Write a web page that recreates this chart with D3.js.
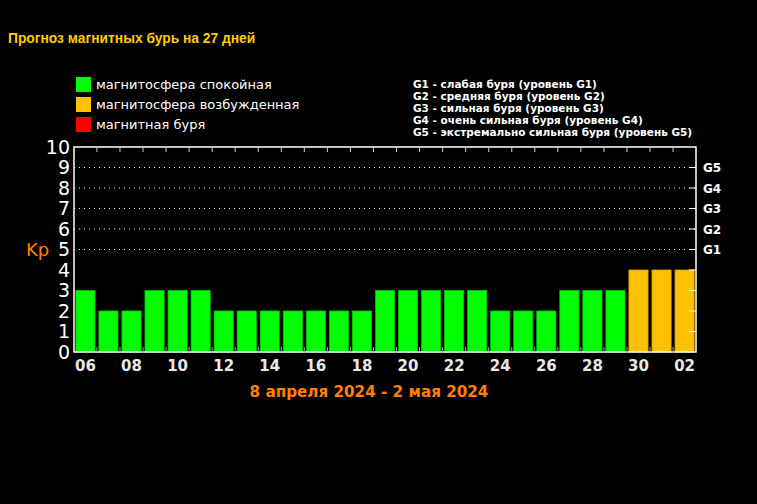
<!DOCTYPE html>
<html>
<head>
<meta charset="utf-8">
<script src="https://cdn.jsdelivr.net/npm/d3@7"></script>
<style>
  body { margin: 0; background: #000; }
  svg { display: block; }
</style>
</head>
<body>
<svg></svg>
<script>
let days = ['06','07','08','09','10','11','12','13','14','15','16','17','18','19','20','21','22','23','24','25','26','27','28','29','30','01','02']
let kp = [3,2,2,3,3,3,2,2,2,2,2,2,2,3,3,3,3,3,2,2,2,3,3,3,4,4,4]
let dayLabels = ['06','08','10','12','14','16','18','20','22','24','26','28','30','02']
let gLevels = [5,6,7,8,9]
let gNames = ['G1','G2','G3','G4','G5']
let legendItems = ['магнитосфера спокойная','магнитосфера возбужденная','магнитная буря']
let legendColors = ['#00ff00','#ffc000','#ff0000']
let gLegend = [
  'G1 - слабая буря (уровень G1)',
  'G2 - средняя буря (уровень G2)',
  'G3 - сильная буря (уровень G3)',
  'G4 - очень сильная буря (уровень G4)',
  'G5 - экстремально сильная буря (уровень G5)'
]

let width = 757
let height = 504
let plotL = 74, plotR = 696, plotT = 147, plotB = 352

let svg = d3.select('svg').attr('width', width).attr('height', height)
svg.append('rect').attr('width', width).attr('height', height).attr('fill', '#000')

let xScale = d3.scaleBand().domain(days).range([plotL, plotR]).paddingInner(0.17).paddingOuter(0.08)
let yScale = d3.scaleLinear().domain([0, 10]).range([plotB, plotT])

let barColor = (v) => v >= 5 ? legendColors[2] : (v >= 4 ? legendColors[1] : legendColors[0])

// title
svg.append('text').attr('x', 8).attr('y', 43)
  .attr('fill', '#ffcc00').attr('font-family', 'Liberation Sans, Arial, sans-serif')
  .attr('font-weight', 'bold').attr('font-size', 13.8)
  .text('Прогноз магнитных бурь на 27 дней')

// legend
legendItems.forEach((t, i) => {
  svg.append('rect').attr('x', 76).attr('y', 77 + i * 20).attr('width', 15).attr('height', 15).attr('fill', legendColors[i])
  svg.append('text').attr('x', 96).attr('y', 89 + i * 20)
    .attr('fill', '#fff').attr('font-family', 'DejaVu Sans, sans-serif').attr('font-size', 13)
    .text(t)
})
gLegend.forEach((t, i) => {
  svg.append('text').attr('x', 413).attr('y', 88 + i * 12)
    .attr('fill', '#fff').attr('font-family', 'DejaVu Sans, sans-serif').attr('font-weight', 'bold').attr('font-size', 10.5)
    .text(t)
})

// grid lines
svg.append('g').selectAll('line').data(gLevels).enter().append('line')
  .attr('x1', plotL).attr('x2', plotR)
  .attr('y1', d => yScale(d)).attr('y2', d => yScale(d))
  .attr('stroke', '#fff').attr('stroke-width', 1).attr('stroke-dasharray', '1,4')

// bars
svg.append('g').selectAll('rect').data(kp).enter().append('rect')
  .attr('x', (d, i) => xScale(days[i]))
  .attr('y', d => yScale(d))
  .attr('width', xScale.bandwidth())
  .attr('height', d => yScale(0) - yScale(d))
  .attr('fill', d => barColor(d))
  .attr('stroke', d => d >= 4 ? '#d9a300' : '#00c800').attr('stroke-width', 0.8)

// frame
svg.append('rect').attr('x', plotL).attr('y', plotT).attr('width', plotR - plotL).attr('height', plotB - plotT)
  .attr('fill', 'none').attr('stroke', '#fff').attr('stroke-width', 1.5)

// band ticks top & bottom
let bounds = days.slice(1).map((d, i) => (xScale(days[i]) + xScale.bandwidth() + xScale(d)) / 2)
svg.append('g').selectAll('line').data(bounds).enter().append('line')
  .attr('x1', d => d).attr('x2', d => d).attr('y1', plotT).attr('y2', plotT + 5)
  .attr('stroke', '#ccc')
svg.append('g').selectAll('line').data(bounds).enter().append('line')
  .attr('x1', d => d).attr('x2', d => d).attr('y1', plotB).attr('y2', plotB - 5)
  .attr('stroke', '#aaa')

// right ticks
svg.append('g').selectAll('line').data(d3.range(1, 10)).enter().append('line')
  .attr('x1', plotR - 7).attr('x2', plotR)
  .attr('y1', d => yScale(d)).attr('y2', d => yScale(d))
  .attr('stroke', '#fff')

// left axis labels
let yAxis = d3.axisLeft(yScale).ticks(10).tickSize(0).tickPadding(4)
let yg = svg.append('g').attr('transform', 'translate(' + plotL + ',0)').call(yAxis)
yg.select('.domain').remove()
yg.selectAll('text').attr('fill', '#fff').attr('font-family', 'DejaVu Sans, sans-serif').attr('font-size', 19)

// G labels right
svg.append('g').selectAll('text').data(gLevels).enter().append('text')
  .attr('x', plotR + 7).attr('y', d => yScale(d) + 4.5)
  .attr('fill', '#fff').attr('font-family', 'DejaVu Sans, sans-serif').attr('font-weight', 'bold').attr('font-size', 12)
  .text((d, i) => gNames[i])

// Kp label
svg.append('text').attr('x', 26).attr('y', 256)
  .attr('fill', '#ff8000').attr('font-family', 'DejaVu Sans, sans-serif').attr('font-size', 18)
  .text('Kp')

// x labels
let xAxis = d3.axisBottom(xScale).tickValues(dayLabels).tickSize(0).tickPadding(8)
let xg = svg.append('g').attr('transform', 'translate(0,' + plotB + ')').call(xAxis)
xg.select('.domain').remove()
xg.selectAll('text').attr('fill', '#e8e8e8').attr('font-family', 'DejaVu Sans, sans-serif').attr('font-weight', 'bold').attr('font-size', 15)

// date range
svg.append('text').attr('x', 369).attr('y', 397).attr('text-anchor', 'middle')
  .attr('fill', '#ff8000').attr('font-family', 'DejaVu Sans, sans-serif').attr('font-weight', 'bold').attr('font-size', 15.2)
  .text('8 апреля 2024 - 2 мая 2024')
</script>
</body>
</html>
